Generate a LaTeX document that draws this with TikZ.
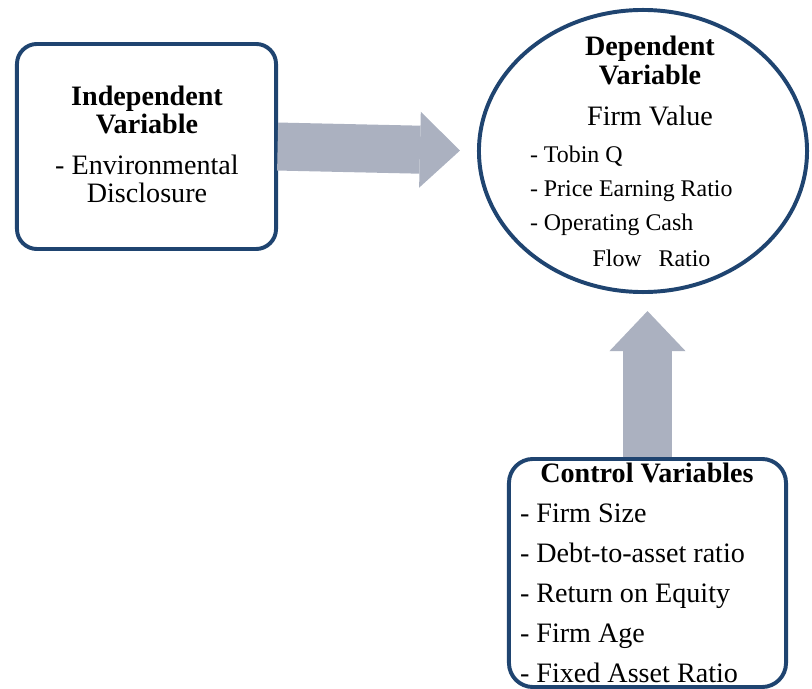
\documentclass[tikz,border=0pt]{standalone}
\usepackage{fontspec}
\setmainfont{Liberation Serif}
\usetikzlibrary{arrows.meta,positioning,shapes.geometric}
\definecolor{boxblue}{HTML}{1F4470}
\definecolor{arrowgrey}{HTML}{ABB1C0}

\begin{document}
\begin{tikzpicture}[x=0.025cm,y=-0.025cm]
\tikzstyle{every node}=[inner sep=0pt, outer sep=0pt];
\tikzstyle{varbox}=[draw=boxblue, line width=2.8pt, fill=white];
\tikzstyle{bigarrow}=[arrowgrey, line width=1.2cm, shorten >=0.475cm,
  -{Triangle[length=1cm, width=1.9cm, line width=0pt]}];
\tikzstyle{head}=[font=\bfseries\fontsize{20}{20}\selectfont, align=center, anchor=base];
\tikzstyle{item}=[font=\fontsize{20}{28.5}\selectfont, align=left, anchor=base west];
\useasboundingbox (0,0) rectangle (812,689);
% boxes
\path (146.5,146.5) node (indep)[varbox, rounded corners=0.5cm, minimum width=6.475cm, minimum height=5.125cm] {}
(643,151) node (dep)[varbox, ellipse, minimum width=8.2cm, minimum height=7.05cm] {}
(647.5,573) node (ctrl)[varbox, rounded corners=0.6cm, minimum width=6.925cm, minimum height=5.7cm] {};
% arrows
\draw[bigarrow, shorten <=0.04cm] (indep.east) -- (dep.west);
\draw[bigarrow, shorten <=0.04cm] (ctrl.north) -- (ctrl.north |- dep.south);
% texts (anchored at the baseline of the last line)
\node (indtitle)[head] at (147,134) {Independent\\Variable};
\node (indtext)[head, font=\fontsize{20}{20.6}\selectfont] at (147,203) {- Environmental\\Disclosure};
\node (deptitle)[head, font=\bfseries\fontsize{20}{21.3}\selectfont] at (650,85) {Dependent\\Variable};
\node (firmvalue)[head, font=\fontsize{20}{24}\selectfont] at (650,126) {Firm Value};
\node (deplist)[item, font=\fontsize{17}{24.2}\selectfont] at (530,267) {- Tobin Q\\- Price Earning Ratio\\- Operating Cash\\[1.4pt]\hspace*{44.5pt}Flow\hspace{12pt}Ratio};
\node (ctrltitle)[head] at (647,483) {Control Variables};
\node (ctrllist)[item] at (520,683) {- Firm Size\\- Debt-to-asset ratio\\- Return on Equity\\- Firm Age\\- Fixed Asset Ratio};
\end{tikzpicture}
\end{document}
